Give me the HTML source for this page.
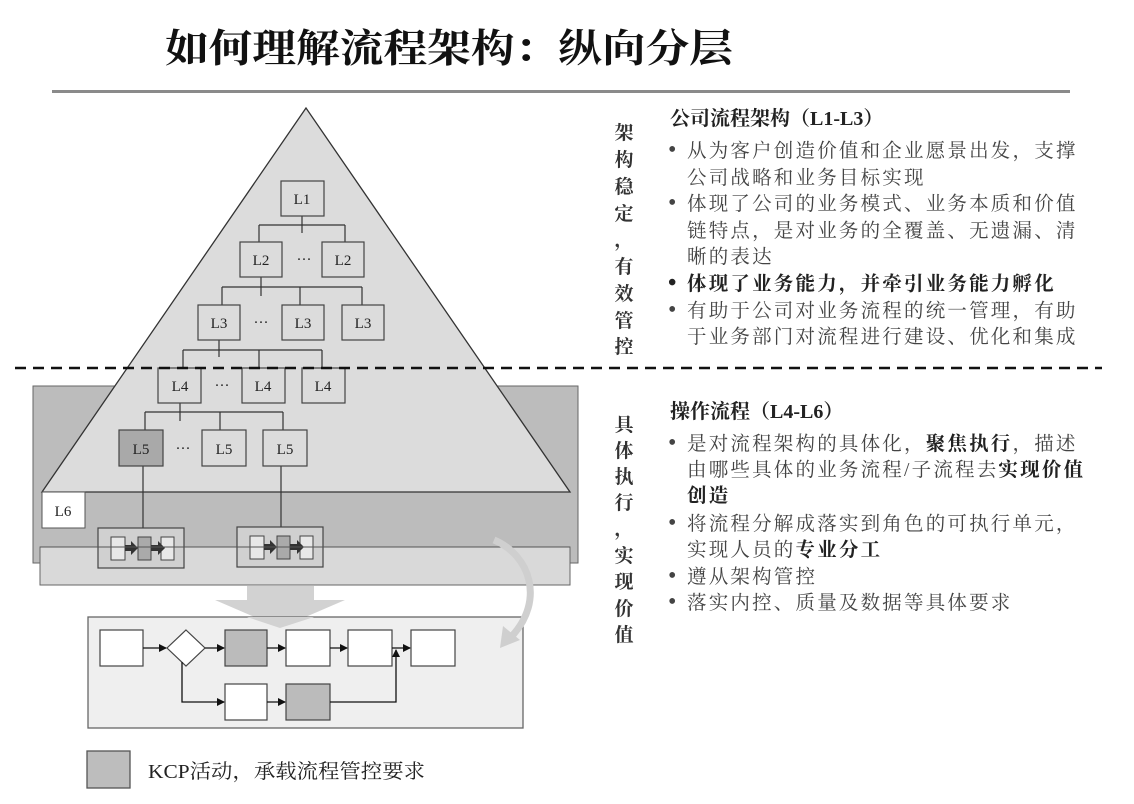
<!DOCTYPE html>
<html><head><meta charset="utf-8"><style>
html,body{margin:0;padding:0;background:#fff;}
svg{display:block;}
.t{font-family:"Liberation Serif","Noto Serif CJK SC",serif;}
.lb{font-family:"Liberation Serif","Noto Serif CJK SC",serif;font-size:15px;fill:#222;text-anchor:middle;}
.bl{font-family:"Liberation Serif","Noto Serif CJK SC",serif;font-size:19.5px;fill:#444;letter-spacing:2.2px;}
.b{font-weight:bold;fill:#222;}
.v{font-family:"Liberation Serif","Noto Serif CJK SC",serif;font-size:19px;font-weight:bold;fill:#333;text-anchor:middle;}
</style></head><body>
<svg width="1134" height="804" viewBox="0 0 1134 804" xmlns="http://www.w3.org/2000/svg">
<defs>
<marker id="ah" markerWidth="8" markerHeight="8" refX="7" refY="4" orient="auto" markerUnits="userSpaceOnUse"><path d="M0,0 L8,4 L0,8 z" fill="#111"/></marker>
</defs>
<!-- title -->
<text x="165" y="62" font-size="39" font-weight="bold" fill="#111" textLength="568" lengthAdjust="spacingAndGlyphs" style="font-family:'Noto Serif CJK SC',serif">如何理解流程架构：纵向分层</text>
<rect x="52" y="90" width="1018" height="3" fill="#8a8a8a"/>

<rect x="33" y="386" width="545" height="177" fill="#bcbcbc" stroke="#666" stroke-width="1"/>
<polygon points="306,108 42,492 570,492" fill="#dcdcdc" stroke="#333" stroke-width="1.3"/>
<rect x="40" y="547" width="530" height="38" fill="#d9d9d9" stroke="#666" stroke-width="1"/>
<rect x="42" y="492" width="43" height="36" fill="#fff" stroke="#555"/>
<text x="63" y="516" class="lb">L6</text>

<g stroke="#333" stroke-width="1.2" fill="none">
<path d="M302,216 V233 M259,225 H345 M259,225 V242 M345,225 V242"/>
<path d="M261,277 V296 M222,287 H362 M222,287 V305 M300,287 V305 M362,287 V305"/>
<path d="M219,340 V357 M183,350 H322 M183,350 V368 M259,350 V368 M322,350 V368"/>
<path d="M180,403 V421 M145,412 H283 M145,412 V430 M220,412 V430 M283,412 V430"/>
<path d="M143,466 V528 M281,466 V527"/>
</g>
<g stroke="#444" stroke-width="1.2" fill="#dcdcdc">
<rect x="281" y="181" width="43" height="35"/>
<rect x="240" y="242" width="42" height="35"/>
<rect x="322" y="242" width="42" height="35"/>
<rect x="198" y="305" width="42" height="35"/>
<rect x="282" y="305" width="42" height="35"/>
<rect x="342" y="305" width="42" height="35"/>
<rect x="158" y="368" width="43" height="35" fill="none"/>
<rect x="242" y="368" width="43" height="35" fill="none"/>
<rect x="302" y="368" width="43" height="35" fill="none"/>
<rect x="119" y="430" width="44" height="36" fill="#a9a9a9"/>
<rect x="202" y="430" width="44" height="36"/>
<rect x="263" y="430" width="44" height="36"/>
</g>
<text x="302" y="204" class="lb">L1</text>
<text x="261" y="265" class="lb">L2</text><text x="343" y="265" class="lb">L2</text><text x="304" y="264" class="lb">···</text>
<text x="219" y="328" class="lb">L3</text><text x="303" y="328" class="lb">L3</text><text x="363" y="328" class="lb">L3</text><text x="261" y="327" class="lb">···</text>
<text x="180" y="391" class="lb">L4</text><text x="263" y="391" class="lb">L4</text><text x="323" y="391" class="lb">L4</text><text x="222" y="390" class="lb">···</text>
<text x="141" y="454" class="lb">L5</text><text x="224" y="454" class="lb">L5</text><text x="285" y="454" class="lb">L5</text><text x="183" y="453" class="lb">···</text>

<line x1="15" y1="368" x2="1102" y2="368" stroke="#111" stroke-width="2.5" stroke-dasharray="11,7"/>

<g>
<rect x="98" y="528" width="86" height="40" fill="#d0d0d0" stroke="#444" stroke-width="1.2"/>
<rect x="111" y="537" width="14" height="23" fill="#e8e8e8" stroke="#444"/>
<rect x="138" y="537" width="13" height="23" fill="#aaa" stroke="#444"/>
<rect x="161" y="537" width="13" height="23" fill="#e8e8e8" stroke="#444"/>
<path d="M125,545 h6 v-4 l7,7 l-7,7 v-4 h-6z M151,545 h7 v-4 l7,7 l-7,7 v-4 h-7z" fill="#333"/>
<rect x="237" y="527" width="86" height="40" fill="#d0d0d0" stroke="#444" stroke-width="1.2"/>
<rect x="250" y="536" width="14" height="23" fill="#e8e8e8" stroke="#444"/>
<rect x="277" y="536" width="13" height="23" fill="#aaa" stroke="#444"/>
<rect x="300" y="536" width="13" height="23" fill="#e8e8e8" stroke="#444"/>
<path d="M264,544 h6 v-4 l7,7 l-7,7 v-4 h-6z M290,544 h7 v-4 l7,7 l-7,7 v-4 h-7z" fill="#333"/>
</g>
<line x1="40" y1="547" x2="570" y2="547" stroke="#555" stroke-width="1"/>

<polygon points="247,586 314,586 314,600 345,600 280,628 215,600 247,600" fill="#d2d2d2"/>
<rect x="88" y="617" width="435" height="111" fill="#efefef" stroke="#666" stroke-width="1.3"/>
<polygon points="247,617 314,617 280,628" fill="#d2d2d2"/>
<path d="M494,540 C530,555 545,600 512,636" stroke="#cfcfcf" stroke-width="7" fill="none"/>
<polygon points="500,648 503,626 520,640" fill="#cfcfcf"/>

<g stroke="#444" stroke-width="1.2">
<rect x="100" y="630" width="43" height="36" fill="#fff"/>
<polygon points="186,630 205,648 186,666 167,648" fill="#fff"/>
<rect x="225" y="630" width="42" height="36" fill="#bbb"/>
<rect x="286" y="630" width="44" height="36" fill="#fff"/>
<rect x="348" y="630" width="44" height="36" fill="#fff"/>
<rect x="411" y="630" width="44" height="36" fill="#fff"/>
<rect x="225" y="684" width="42" height="36" fill="#fff"/>
<rect x="286" y="684" width="44" height="36" fill="#bbb"/>
</g>
<g stroke="#111" stroke-width="1.3" fill="none" marker-end="url(#ah)">
<line x1="143" y1="648" x2="166" y2="648"/>
<line x1="205" y1="648" x2="224" y2="648"/>
<line x1="267" y1="648" x2="285" y2="648"/>
<line x1="330" y1="648" x2="347" y2="648"/>
<line x1="392" y1="648" x2="410" y2="648"/>
<path d="M182,662 V702 H224"/>
<line x1="267" y1="702" x2="285" y2="702"/>
<path d="M330,702 H396 V650"/>
</g>

<rect x="87" y="751" width="43" height="37" fill="#bdbdbd" stroke="#555" stroke-width="1.3"/>
<text x="148" y="778" class="t" font-size="20" fill="#222" textLength="277" lengthAdjust="spacingAndGlyphs">KCP活动，承载流程管控要求</text>

<g class="v">
<text x="624" y="139">架</text><text x="624" y="166">构</text><text x="624" y="193">稳</text><text x="624" y="220">定</text><text x="624" y="246">，</text><text x="624" y="273">有</text><text x="624" y="300">效</text><text x="624" y="327">管</text><text x="624" y="353">控</text>
<text x="624" y="431">具</text><text x="624" y="457">体</text><text x="624" y="483">执</text><text x="624" y="509">行</text><text x="624" y="535">，</text><text x="624" y="562">实</text><text x="624" y="588">现</text><text x="624" y="615">价</text><text x="624" y="641">值</text>
</g>

<text x="670" y="125" class="t" font-size="20" font-weight="bold" fill="#222">公司流程架构（L1-L3）</text>
<g class="bl">
<text x="668" y="157" font-size="24">•</text><text x="687" y="157">从为客户创造价值和企业愿景出发，支撑</text>
<text x="687" y="184">公司战略和业务目标实现</text>
<text x="668" y="210" font-size="24">•</text><text x="687" y="210">体现了公司的业务模式、业务本质和价值</text>
<text x="687" y="237">链特点，是对业务的全覆盖、无遗漏、清</text>
<text x="687" y="263">晰的表达</text>
<text x="668" y="290" font-size="24" class="b">•</text><text x="687" y="290" class="b">体现了业务能力，并牵引业务能力孵化</text>
<text x="668" y="317" font-size="24">•</text><text x="687" y="317">有助于公司对业务流程的统一管理，有助</text>
<text x="687" y="343">于业务部门对流程进行建设、优化和集成</text>
</g>

<text x="670" y="418" class="t" font-size="20" font-weight="bold" fill="#222">操作流程（L4-L6）</text>
<g class="bl">
<text x="668" y="450" font-size="24">•</text><text x="687" y="450">是对流程架构的具体化，<tspan class="b">聚焦执行</tspan>，描述</text>
<text x="687" y="476">由哪些具体的业务流程/子流程去<tspan class="b">实现价值</tspan></text>
<text x="687" y="502" class="b">创造</text>
<text x="668" y="530" font-size="24">•</text><text x="687" y="530">将流程分解成落实到角色的可执行单元，</text>
<text x="687" y="556">实现人员的<tspan class="b">专业分工</tspan></text>
<text x="668" y="583" font-size="24">•</text><text x="687" y="583">遵从架构管控</text>
<text x="668" y="609" font-size="24">•</text><text x="687" y="609">落实内控、质量及数据等具体要求</text>
</g>
</svg>
</body></html>
